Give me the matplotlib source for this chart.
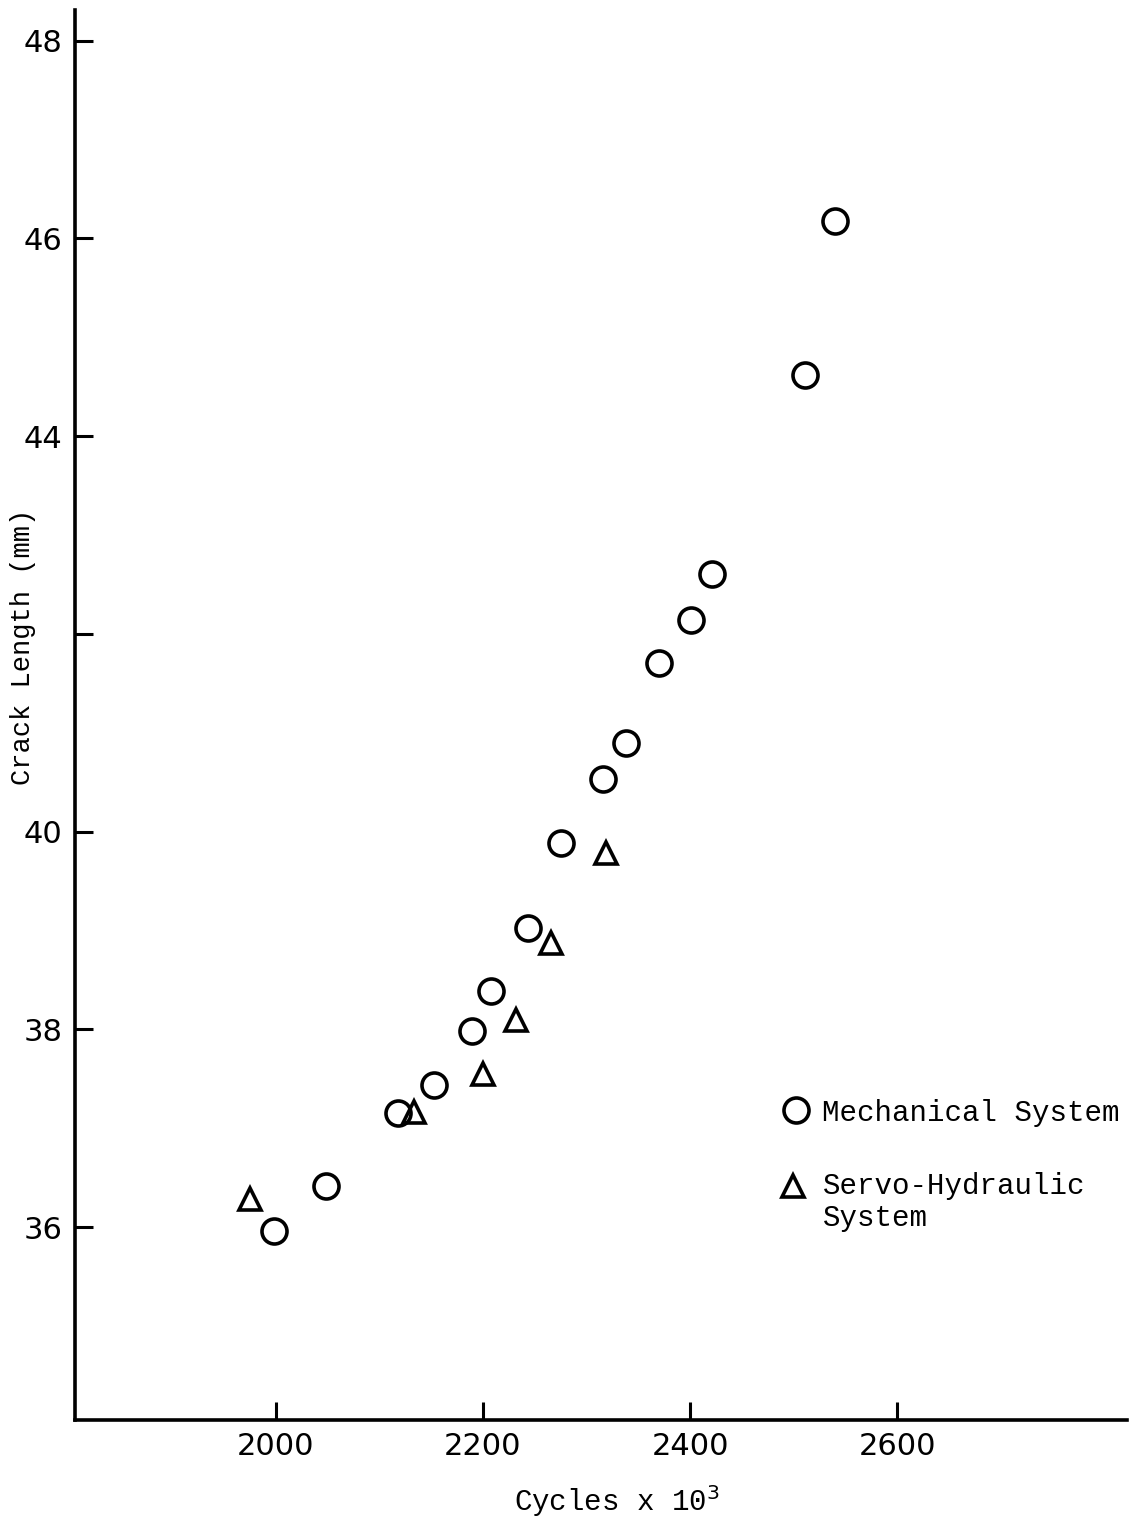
"""Crack length vs cycles: mechanical vs servo-hydraulic test systems."""

import matplotlib

matplotlib.use("Agg")
import matplotlib.pyplot as plt

# Mechanical system (circles)
mech_cycles = [1998, 2048, 2118, 2153, 2189, 2208, 2244, 2275, 2316, 2338, 2370, 2401, 2421, 2511, 2540]
mech_crack = [35.96, 36.42, 37.15, 37.44, 37.98, 38.39, 39.03, 39.89, 40.53, 40.90, 41.71, 42.14, 42.61, 44.62, 46.18]

# Servo-hydraulic system (triangles)
servo_cycles = [1975, 2133, 2200, 2232, 2266, 2319]
servo_crack = [36.28, 37.16, 37.55, 38.10, 38.87, 39.78]

x_ticks = [2000, 2200, 2400, 2600]
y_ticks = [36, 38, 40, 42, 44, 46, 48]
y_tick_labels = ["36", "38", "40", "", "44", "46", "48"]

MONO = "Liberation Mono"
SANS = "DejaVu Sans"
EDGE = 2.6


def main() -> None:
    fig = plt.figure(figsize=(11.34, 15.25), dpi=100)
    ax = fig.add_axes([0.0661, 0.0689, 0.9277, 0.9245])

    ax.plot(mech_cycles, mech_crack, linestyle="none", marker="o", markersize=18,
            markerfacecolor="none", markeredgecolor="black", markeredgewidth=EDGE)
    ax.plot(servo_cycles, servo_crack, linestyle="none", marker="^", markersize=16,
            markerfacecolor="none", markeredgecolor="black", markeredgewidth=EDGE)

    ax.set_xlim(1806, 2822)
    ax.set_ylim(34.05, 48.31)

    for side in ("top", "right"):
        ax.spines[side].set_visible(False)
    for side in ("left", "bottom"):
        ax.spines[side].set_linewidth(2.6)

    ax.set_xticks(x_ticks)
    ax.set_yticks(y_ticks)
    ax.set_yticklabels(y_tick_labels)
    ax.tick_params(direction="in", length=13, width=2.2, labelsize=22, pad=9)
    for label in ax.get_xticklabels() + ax.get_yticklabels():
        label.set_family(SANS)

    ax.set_xlabel(r"Cycles x 10$^3$", family=MONO, fontsize=21)
    ax.set_ylabel("Crack Length (mm)", family=MONO, fontsize=19.5)
    ax.xaxis.set_label_coords(0.515, -0.045)
    ax.yaxis.set_label_coords(-0.037, 0.548)

    # legend drawn by hand as in the original figure
    ax.plot([2502], [37.18], linestyle="none", marker="o", markersize=18,
            markerfacecolor="none", markeredgecolor="black", markeredgewidth=EDGE,
            clip_on=False)
    ax.text(2527, 37.15, "Mechanical System", family=MONO, fontsize=21,
            ha="left", va="center")
    ax.plot([2499], [36.42], linestyle="none", marker="^", markersize=16,
            markerfacecolor="none", markeredgecolor="black", markeredgewidth=EDGE,
            clip_on=False)
    ax.text(2528, 36.42, "Servo-Hydraulic", family=MONO, fontsize=21,
            ha="left", va="center")
    ax.text(2528, 36.09, "System", family=MONO, fontsize=21, ha="left", va="center")

    fig.savefig("out.png", dpi=100)
    plt.close(fig)


if __name__ == "__main__":
    main()
